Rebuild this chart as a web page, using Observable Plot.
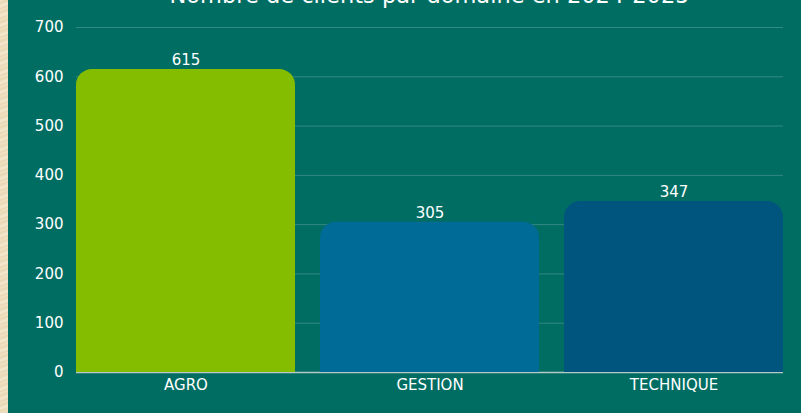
<!DOCTYPE html>
<html>
<head>
<meta charset="utf-8">
<script src="https://cdn.jsdelivr.net/npm/d3@7"></script>
<script src="https://cdn.jsdelivr.net/npm/@observablehq/plot@0.6"></script>
<style>
  html, body { margin: 0; padding: 0; width: 801px; height: 413px; overflow: hidden; background: #006D63; }
  #wrap { position: relative; width: 801px; height: 413px; background: #006D63; overflow: hidden; font-family: "DejaVu Sans", sans-serif; }
  #strip { position: absolute; left: 0; top: 0; width: 8px; height: 413px;
    background: repeating-linear-gradient(160deg, #F2E4C8 0px, #EAD7B4 3px, #F4E8CF 6px, #E8D3AE 9px); }
  #title { position: absolute; left: 0; width: 801px; top: -19px; text-align: center; color: #fff;
    font-size: 22.5px; font-weight: normal; line-height: 28px; margin-left: 29px; }
  #chart { position: absolute; left: 0; top: 0; }
</style>
</head>
<body>
<div id="wrap">
  <div id="strip"></div>
  <div id="chart"></div>
  <div id="title">Nombre de clients par domaine en 2024-2025</div>
</div>
<script>
const categories = ["AGRO", "GESTION", "TECHNIQUE"];
const values = [615, 305, 347];
const colors = ["#84BC00", "#006B96", "#00557F"];
const yTicks = [0, 100, 200, 300, 400, 500, 600, 700];

const data = categories.map((c, i) => ({category: c, value: values[i], color: colors[i]}));

const chart = Plot.plot({
  width: 801,
  height: 413,
  marginLeft: 76,
  marginRight: 18,
  marginTop: 27,
  marginBottom: 41,
  style: {background: "transparent", color: "#fff", fontFamily: "'DejaVu Sans', sans-serif", fontSize: "15px"},
  x: {domain: categories, paddingInner: 0.1025, paddingOuter: 0, label: null},
  y: {domain: [0, 700], ticks: yTicks, label: null},
  marks: [
    Plot.gridY(yTicks, {stroke: "#ffffff", strokeOpacity: 0.2, strokeWidth: 1}),
    Plot.ruleY([0], {stroke: "#B8C8C6", strokeWidth: 1.5}),
    Plot.barY(data, {x: "category", y: "value", fill: "color", rx: 16}),
    Plot.barY(data, {x: "category", y1: 0, y2: d => d.value / 2, fill: "color"}),
    Plot.text(data, {x: "category", y: "value", text: d => String(d.value), dy: -4, lineAnchor: "bottom",
      fill: "#fff", fontSize: 15}),
    Plot.axisY({ticks: yTicks, tickSize: 0, tickPadding: 13, fontSize: 15, fill: "#fff"}),
    Plot.axisX({tickSize: 0, tickPadding: 7, fontSize: 15, fill: "#fff"})
  ]
});
document.getElementById("chart").appendChild(chart);
</script>
</body>
</html>
